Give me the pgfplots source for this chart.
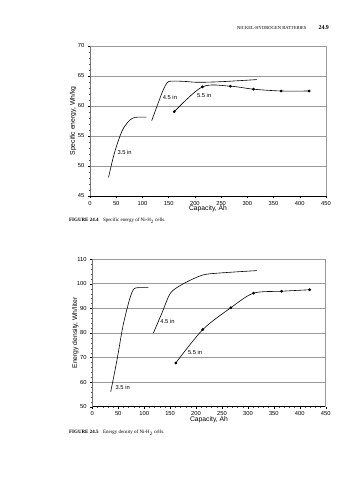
\documentclass[border=0pt]{standalone}
\usepackage{pgfplots}
\pgfplotsset{compat=1.18}
\usepackage{fontspec}
\setmainfont{Liberation Serif}
\newfontfamily\arial{Liberation Sans}
\begin{document}
\begin{tikzpicture}
\useasboundingbox (0,0) rectangle (357bp,480bp);
\tikzset{lbl/.style={font=\arial\fontsize{5.8}{6.5}\selectfont}}
\pgfplotsset{
  common/.style={
    scale only axis, anchor=south west,
    font=\arial\fontsize{5.8}{6.5}\selectfont,
    /pgf/number format/assume math mode=true,
    axis x line*=bottom, axis y line*=left,
    x axis line style={black, line width=0.5pt, -},
    y axis line style={black!55, line width=0.5pt, -},
    xmin=0, xmax=450, xtick={0,50,...,450},
    minor x tick num=4, minor y tick num=4,
    ymajorgrids, grid style={black!40, line width=0.8pt},
    major tick style={black, line width=0.35pt},
    minor tick style={black!70, line width=0.3pt},
    major tick length=2.2bp, minor tick length=1.3bp,
    tick align=outside,
    xticklabel style={yshift=0.5bp},
    xlabel style={at={(axis description cs:0.5,0)}, anchor=center, yshift=-13bp, font=\arial\fontsize{6.8}{7.5}\selectfont},
    ylabel style={anchor=center, font=\arial\fontsize{6.8}{7.5}\selectfont},
    clip=false,
  },
  crv/.style={black, line width=0.6pt, smooth, no markers},
  mrk/.style={black, line width=0.6pt, smooth, mark=*, mark size=1.1pt, mark options={solid, fill=black}},
}
% ---------- Top chart ----------
\begin{axis}[common, at={(90bp,284bp)}, width=236bp, height=150bp,
  ymin=45, ymax=70, ytick={45,50,...,70},
  ylabel style={at={(axis description cs:-0.072,0.5)}},
  xlabel={Capacity, Ah}, ylabel={Specific energy, Wh/kg}]
\addplot[crv] coordinates {(35.3,48.1) (44.8,51.6) (54.3,54.3) (63.8,56.3) (76.5,57.7) (86,58.1) (97,58.15) (108.2,58.15)};
\addplot[crv] coordinates {(117.6,57.55) (130.2,60.55) (139.7,62.7) (147.3,63.9) (155.6,64.15) (180,64.1) (205,63.95) (250,64.05) (318,64.4)};
\addplot[mrk] coordinates {(160.6,59.05) (214.4,63.2) (267.6,63.3) (311.8,62.8) (364.3,62.5) (418,62.5)};
\draw[black!40, line width=0.8pt] (rel axis cs:1,0) -- (rel axis cs:1,1);
\node[lbl] at (axis cs:66,52.3) {3.5 in};
\node[lbl] at (axis cs:152.4,61.4) {4.5 in};
\node[lbl] at (axis cs:217.7,61.75) {5.5 in};
\end{axis}
% ---------- Bottom chart ----------
\begin{axis}[common, at={(92.3bp,73.3bp)}, width=233.4bp, height=147.4bp,
  ymin=50, ymax=110, ytick={50,60,...,110},
  ylabel style={at={(axis description cs:-0.073,0.5)}},
  xlabel={Capacity, Ah}, ylabel={Energy density, Wh/liter}]
\addplot[crv] coordinates {(35.5,56.1) (47.5,68.9) (58.7,82.4) (69.5,91.9) (76,96.3) (81,98.1) (88.8,98.45) (108,98.45)};
\addplot[crv] coordinates {(117.8,80) (134,88) (150,96) (169.3,99.3) (201.5,102.7) (227,104.1) (317.4,105.4)};
\addplot[mrk] coordinates {(161,67.8) (213,81.4) (267.2,90.3) (310.8,96.2) (364.9,97) (418.9,97.6)};
\draw[black!40, line width=0.8pt] (rel axis cs:1,0) -- (rel axis cs:1,1);
\node[lbl] at (axis cs:58.7,57.7) {3.5 in};
\node[lbl] at (axis cs:144.8,84.9) {4.5 in};
\node[lbl] at (axis cs:198.2,71.9) {5.5 in};
\end{axis}
% ---------- Page text ----------
\node[anchor=base east, font=\fontsize{4.6}{5}\selectfont] at (310bp,450bp) {NICKEL-HYDROGEN BATTERIES};
\node[anchor=base east, font=\bfseries\fontsize{6}{7}\selectfont] at (332.5bp,450bp) {24.9};
\node[anchor=west, inner sep=0pt, font=\fontsize{5}{6}\selectfont] at (69bp,259bp) {\textbf{FIGURE 24.4}\hspace{0.9em}Specific energy of Ni-H\textsubscript{2} cells.};
\node[anchor=west, inner sep=0pt, font=\fontsize{5}{6}\selectfont] at (69bp,47bp) {\textbf{FIGURE 24.5}\hspace{0.9em}Energy density of Ni-H\textsubscript{2} cells.};
\end{tikzpicture}
\end{document}
